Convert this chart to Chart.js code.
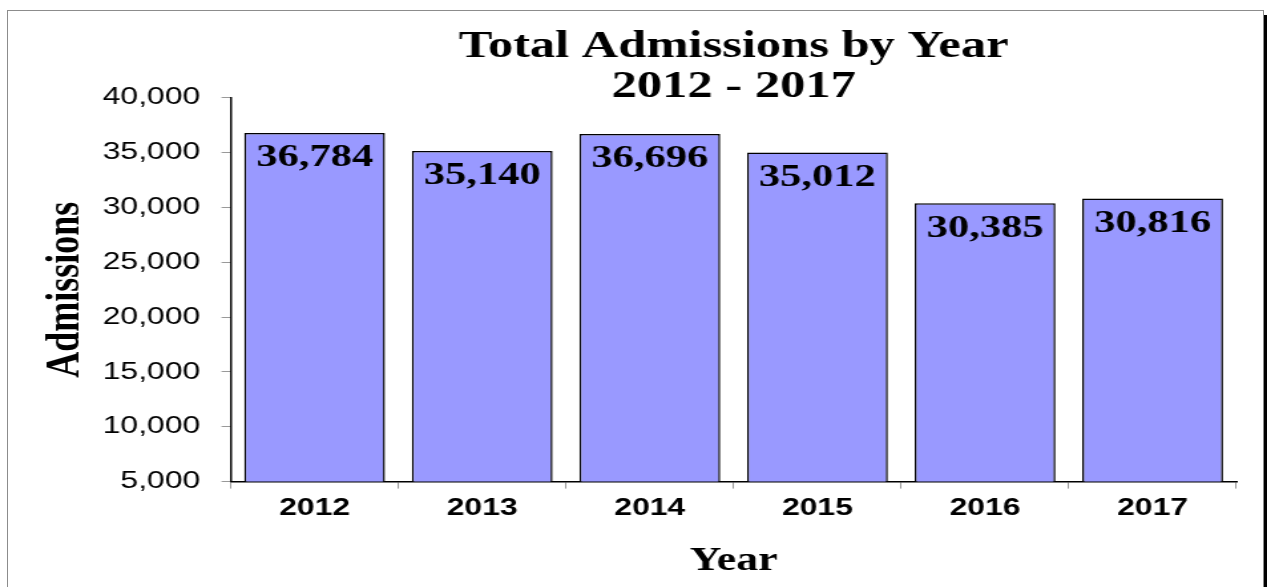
<!DOCTYPE html>
<html>
<head>
<meta charset="utf-8">
<script src="https://cdn.jsdelivr.net/npm/chart.js@4.4.1/dist/chart.umd.min.js"></script>
<style>
    html, body { margin: 0; padding: 0; background: #fff; }
    body { width: 1267px; height: 587px; position: relative; overflow: hidden; }
    #frame {
        position: absolute; left: 7px; top: 10px; width: 1255px; height: 600px;
        border: 1.5px solid #8c8c8c; box-shadow: 4px 5px 0 #000; background: #fff;
    }
    #admissionsChart {
        position: absolute; left: 0; top: 0;
        transform: scaleX(1.3295); transform-origin: 0 0;
    }
</style>
</head>
<body>
<div id="frame"></div>
<canvas id="admissionsChart" width="953" height="587"></canvas>
<script>

const years = ["2012", "2013", "2014", "2015", "2016", "2017"];
const admissions = [36784, 35140, 36696, 35012, 30385, 30816];
const titleLines = ["Total Admissions by Year", "2012 - 2017"];

const serif = "'Liberation Serif', 'Times New Roman', serif";
const sans = "'Liberation Sans', Arial, sans-serif";

// write the value inside the top of each bar
const barValues = {
    id: "barValues",
    afterDatasetsDraw(chart) {
        const ctx = chart.ctx;
        const meta = chart.getDatasetMeta(0);
        ctx.save();
        ctx.font = "bold 32px " + serif;
        ctx.fillStyle = "#000";
        ctx.textAlign = "center";
        ctx.textBaseline = "middle";
        meta.data.forEach((bar, i) => {
            ctx.fillText(admissions[i].toLocaleString("en-US"), bar.x, bar.y + 25);
        });
        ctx.restore();
    }
};

new Chart(document.getElementById("admissionsChart"), {
    type: "bar",
    data: {
        labels: years,
        datasets: [{
            data: admissions,
            backgroundColor: "#9999ff",
            borderColor: "#000",
            borderWidth: 1.5,
            barPercentage: 0.84,
            categoryPercentage: 1.0
        }]
    },
    options: {
        responsive: false,
        animation: false,
        layout: {
            padding: { left: 20, right: 23, top: 0, bottom: 6 }
        },
        plugins: {
            legend: { display: false },
            tooltip: { enabled: false },
            title: {
                display: true,
                text: titleLines,
                color: "#000",
                fullSize: false,
                font: { family: serif, size: 38, weight: "bold", lineHeight: 1.05 },
                padding: { top: 27, bottom: -9 }
            }
        },
        scales: {
            x: {
                grid: {
                    drawOnChartArea: false,
                    drawTicks: true,
                    tickLength: 7,
                    color: "#999",
                    offset: true
                },
                border: { display: true, color: "#000", width: 1.5 },
                ticks: {
                    color: "#000",
                    padding: 5,
                    font: { family: sans, size: 24, weight: "bold" }
                },
                title: {
                    display: true,
                    text: "Year",
                    color: "#000",
                    font: { family: serif, size: 33, weight: "bold" },
                    padding: { top: 14, bottom: 0 }
                }
            },
            y: {
                min: 5000,
                max: 40000,
                grid: {
                    drawOnChartArea: false,
                    drawTicks: true,
                    tickLength: 7,
                    color: "#999"
                },
                border: { display: true, color: "#000", width: 1.5 },
                ticks: {
                    stepSize: 5000,
                    color: "#000",
                    padding: 16,
                    font: { family: sans, size: 24 },
                    callback: (v) => v.toLocaleString("en-US")
                },
                title: {
                    display: true,
                    text: "Admissions",
                    color: "#000",
                    font: { family: serif, size: 36, weight: "bold" },
                    padding: { top: 8, bottom: -10 }
                }
            }
        }
    },
    plugins: [barValues]
});

</script>
</body>
</html>
